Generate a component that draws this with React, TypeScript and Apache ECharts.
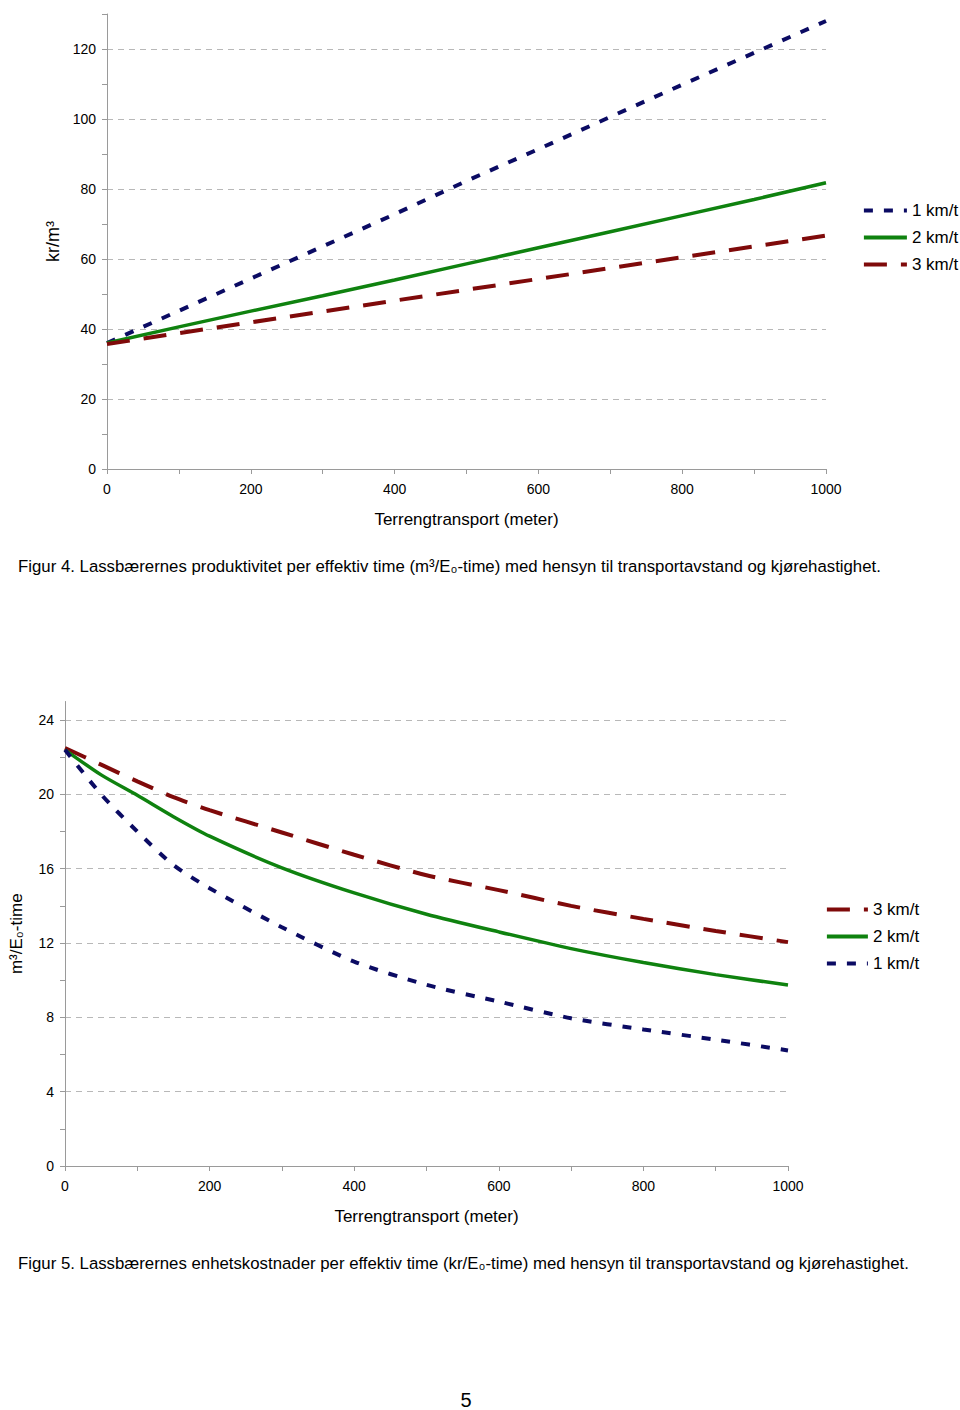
import React, { useEffect, useRef } from "react";
import * as echarts from "echarts";

const FONT = '"Liberation Sans", Arial, Helvetica, sans-serif';

const SPEED_NAMES = ["1 km/t", "2 km/t", "3 km/t"];
const BOTTOM_LEGEND_ORDER = ["3 km/t", "2 km/t", "1 km/t"];

// Figure 4: kr/m3 vs transport distance
const topDistance = [0, 100, 200, 300, 400, 500, 600, 700, 800, 900, 1000];
const topSpeed1 = [36, 45.2, 54.4, 63.6, 72.8, 82.3, 91.4, 100.6, 109.8, 118.9, 128];
const topSpeed2 = [36, 40.6, 45.1, 49.5, 54.0, 58.6, 63.2, 67.8, 72.4, 77.0, 81.8];
const topSpeed3 = [35.7, 38.8, 41.9, 45.0, 48.1, 51.2, 54.3, 57.4, 60.5, 63.6, 66.7];

// Figure 5: m3/E0-time vs transport distance
const bottomDistance = [0, 50, 100, 150, 200, 300, 400, 500, 600, 700, 800, 900, 1000];
const bottomSpeed1 = [22.4, 20.0, 18.0, 16.2, 14.95, 12.85, 11.0, 9.75, 8.85, 7.95, 7.35, 6.8, 6.22];
const bottomSpeed2 = [22.4, 21.05, 19.95, 18.8, 17.75, 16.05, 14.7, 13.55, 12.6, 11.7, 10.95, 10.3, 9.74];
const bottomSpeed3 = [22.5, 21.6, 20.7, 19.85, 19.15, 17.95, 16.75, 15.65, 14.85, 14.0, 13.3, 12.65, 12.05];

const topYLabelStep = 20;
const xLabelStep = 200;
const bottomYTickValues = [0, 2, 4, 6, 8, 10, 12, 14, 16, 18, 20, 22, 24];
const bottomYLabelValues = [0, 4, 8, 12, 16, 20, 24];

const CAPTION_4 =
  "Figur 4. Lassbærernes produktivitet per effektiv time (m³/E₀-time) med hensyn til transportavstand og kjørehastighet.";
const CAPTION_5 =
  "Figur 5. Lassbærernes enhetskostnader per effektiv time (kr/E₀-time) med hensyn til transportavstand og kjørehastighet.";

const NAVY = "#0b0b63";
const GREEN = "#0f820f";
const DARKRED = "#7f0a0a";
const AXIS_GRAY = "#9a9a9a";
const GRID_GRAY = "#b8b8b8";

const styles: Record<string, any> = {
  "1 km/t": { color: NAVY, width: 4, type: [9, 11] },
  "2 km/t": { color: GREEN, width: 3.5, type: "solid" },
  "3 km/t": { color: DARKRED, width: 4, type: [23, 14] },
};

function pairs(xs: number[], ys: number[]) {
  return xs.map((x, i) => [x, ys[i]]);
}

function makeSeries(name: string, xs: number[], ys: number[], gridIdx: number, smooth: boolean) {
  const s = styles[name];
  return {
    name,
    type: "line",
    xAxisIndex: gridIdx,
    yAxisIndex: gridIdx * 2,
    data: pairs(xs, ys),
    symbol: "none",
    smooth: smooth ? 0.25 : false,
    z: 3,
    itemStyle: { color: s.color },
    lineStyle: { color: s.color, width: s.width, type: s.type, cap: "butt" },
  };
}

const axisLabelBase = { color: "#000", fontSize: 14, fontFamily: FONT };
const nameStyle = { color: "#000", fontSize: 17, fontFamily: FONT };

const legendCommon = {
  orient: "vertical",
  itemHeight: 14,
  itemGap: 10,
  padding: 0,
  selectedMode: false,
  itemStyle: { color: "transparent", borderColor: "transparent", borderWidth: 0, opacity: 0 },
  lineStyle: { width: 3.8 },
  textStyle: { color: "#000", fontSize: 17, fontFamily: FONT },
};

export default function App() {
  const ref = useRef<HTMLDivElement>(null);

  useEffect(() => {
    if (!ref.current) return;
    const chart = echarts.init(ref.current, undefined, { renderer: "svg" });

    const xAxisCommon = (gridIndex: number) => ({
      gridIndex,
      type: "value",
      min: 0,
      max: 1000,
      interval: 100,
      axisLine: { show: true, lineStyle: { color: AXIS_GRAY, width: 1 } },
      axisTick: { show: true, length: 5, lineStyle: { color: AXIS_GRAY } },
      axisLabel: {
        ...axisLabelBase,
        margin: 13,
        formatter: (v: number) => (v % xLabelStep === 0 ? String(v) : ""),
      },
      splitLine: { show: false },
      name: "Terrengtransport (meter)",
      nameLocation: "middle",
      nameGap: 42,
      nameTextStyle: nameStyle,
    });

    const gridLineAxis = (gridIndex: number, max: number, interval: number) => ({
      gridIndex,
      type: "value",
      min: 0,
      max,
      interval,
      position: "left",
      axisLine: { show: false },
      axisTick: { show: false },
      axisLabel: { show: false },
      splitLine: {
        show: true,
        showMinLine: false,
        showMaxLine: false,
        lineStyle: { color: GRID_GRAY, width: 1, type: [6, 5] },
      },
    });

    const option: any = {
      animation: false,
      backgroundColor: "#fff",
      textStyle: { fontFamily: FONT },
      grid: [
        { left: 107, right: 134, top: 14, bottom: 941 },
        { left: 64, right: 172, top: 701.5, bottom: 244 },
      ],
      xAxis: [xAxisCommon(0), xAxisCommon(1)],
      yAxis: [
        {
          gridIndex: 0,
          type: "value",
          min: 0,
          max: 130,
          interval: 10,
          axisLine: { show: true, lineStyle: { color: AXIS_GRAY, width: 1 } },
          axisTick: { show: true, length: 5, lineStyle: { color: AXIS_GRAY } },
          axisLabel: {
            ...axisLabelBase,
            margin: 11,
            formatter: (v: number) => (v % topYLabelStep === 0 ? String(v) : ""),
          },
          splitLine: { show: false },
          name: "kr/m³",
          nameLocation: "middle",
          nameGap: 43,
          nameTextStyle: { ...nameStyle, fontSize: 18 },
        },
        gridLineAxis(0, 130, 20),
        {
          gridIndex: 1,
          type: "value",
          min: 0,
          max: 25,
          interval: 2,
          axisLine: { show: true, lineStyle: { color: AXIS_GRAY, width: 1 } },
          axisTick: {
            show: true,
            length: 5,
            lineStyle: { color: AXIS_GRAY },
            customValues: bottomYTickValues,
          },
          axisLabel: {
            ...axisLabelBase,
            margin: 11,
            customValues: bottomYLabelValues,
            formatter: (v: number) => (bottomYLabelValues.indexOf(v) >= 0 ? String(v) : ""),
          },
          splitLine: { show: false },
          name: "m³/E₀-time",
          nameLocation: "middle",
          nameGap: 40,
          nameTextStyle: nameStyle,
        },
        gridLineAxis(1, 25, 4),
      ],
      legend: [
        { ...legendCommon, data: SPEED_NAMES, left: 862, top: 202, itemWidth: 43 },
        { ...legendCommon, data: BOTTOM_LEGEND_ORDER, left: 825, top: 901, itemWidth: 41 },
      ],
      graphic: [
        {
          type: "text",
          x: 18,
          y: 566,
          style: { text: CAPTION_4, font: `16.8px ${FONT}`, fill: "#000", verticalAlign: "middle" },
        },
        {
          type: "text",
          x: 18,
          y: 1263,
          style: { text: CAPTION_5, font: `16.8px ${FONT}`, fill: "#000", verticalAlign: "middle" },
        },
        {
          type: "text",
          x: 466,
          y: 1400,
          style: { text: "5", font: `20px ${FONT}`, fill: "#000", align: "center", verticalAlign: "middle" },
        },
      ],
      series: [
        makeSeries("1 km/t", topDistance, topSpeed1, 0, false),
        makeSeries("2 km/t", topDistance, topSpeed2, 0, false),
        makeSeries("3 km/t", topDistance, topSpeed3, 0, false),
        makeSeries("3 km/t", bottomDistance, bottomSpeed3, 1, true),
        makeSeries("2 km/t", bottomDistance, bottomSpeed2, 1, true),
        makeSeries("1 km/t", bottomDistance, bottomSpeed1, 1, true),
      ],
    };

    chart.setOption(option);
    return () => chart.dispose();
  }, []);

  return (
    <div
      ref={ref}
      style={{ position: "absolute", left: 0, top: 0, width: 960, height: 1410, background: "#fff" }}
    />
  );
}
